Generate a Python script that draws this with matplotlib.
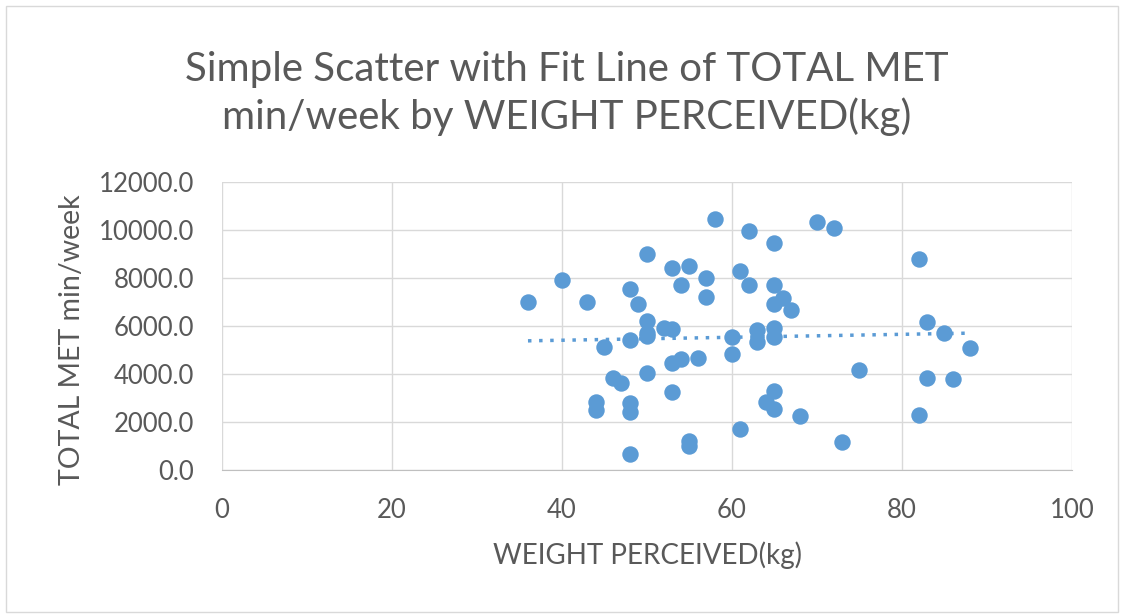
import numpy as np
import matplotlib.pyplot as plt
from matplotlib.patches import Rectangle

# weight perceived (kg) and total MET min/week
weight = [36, 40, 43, 50, 58, 62, 65, 53, 55, 57, 54, 57, 61, 62, 65, 66, 65, 67,
          48, 49, 50, 50, 52, 53, 50, 48, 45, 60, 60, 63, 63, 65, 65,
          54, 53, 56, 50, 46, 47, 53, 44, 44, 48, 48, 48, 55, 55, 61,
          65, 64, 65, 68, 70, 72, 82, 83, 85, 88, 75, 83, 86, 82, 73]
met = [7000, 7900, 7000, 9000, 10450, 9950, 9450, 8400, 8500, 8000, 7700, 7200, 8300, 7700, 7700, 7150, 6900, 6650,
       7550, 6900, 6200, 5700, 5900, 5870, 5600, 5400, 5130, 5550, 4830, 5830, 5350, 5900, 5550,
       4610, 4440, 4650, 4030, 3820, 3640, 3260, 2850, 2500, 2780, 2430, 650, 1200, 1000, 1700,
       3300, 2850, 2550, 2250, 10350, 10100, 8800, 6150, 5700, 5100, 4150, 3850, 3800, 2300, 1150]

title = 'Simple Scatter with Fit Line of TOTAL MET\nmin/week by WEIGHT PERCEIVED(kg)'
x_label = 'WEIGHT PERCEIVED(kg)'
y_label = 'TOTAL MET min/week'

blue = '#5b9bd5'
grey = '#595959'
plt.rcParams['font.family'] = ['Lato', 'DejaVu Sans']

fig = plt.figure(figsize=(11.24, 6.15), dpi=100)
ax = fig.add_axes([0.1975, 0.2358, 0.7562, 0.4682])

ax.scatter(weight, met, s=140, color=blue, zorder=3, linewidths=0)

# linear fit line
slope, icpt = np.polyfit(weight, met, 1)
xs = np.array([min(weight), max(weight)])
ax.plot(xs, slope * xs + icpt, color=blue, lw=2.5, linestyle=(0, (1, 2.2)), zorder=2)

ax.set_xlim(0, 100)
ax.set_ylim(0, 12000)
ax.set_xticks(range(0, 101, 20))
ax.set_yticks(range(0, 12001, 2000))
ax.set_yticklabels(['%.1f' % v for v in range(0, 12001, 2000)])
ax.grid(True, color='#d9d9d9', lw=1)
ax.set_axisbelow(True)
for s in ['top', 'right', 'left']:
    ax.spines[s].set_visible(False)
ax.spines['bottom'].set_color('#bfbfbf')
ax.tick_params(length=0, labelsize=18.5, labelcolor=grey)
ax.tick_params(axis='y', pad=20)
ax.tick_params(axis='x', pad=20)

fig.text(0.5045, 0.848, title, ha='center', va='center', fontsize=29, color=grey,
         linespacing=1.3)
fig.text(0.576, 0.097, x_label, ha='center', va='center', fontsize=20, color=grey)
fig.text(0.064, 0.447, y_label, ha='center', va='center', rotation=90, fontsize=20.5, color=grey)

fig.patches.append(Rectangle((0.005, 0.005), 0.99, 0.985, transform=fig.transFigure,
                             fill=False, edgecolor='#d9d9d9', lw=1))

fig.savefig('out.png', dpi=100)
